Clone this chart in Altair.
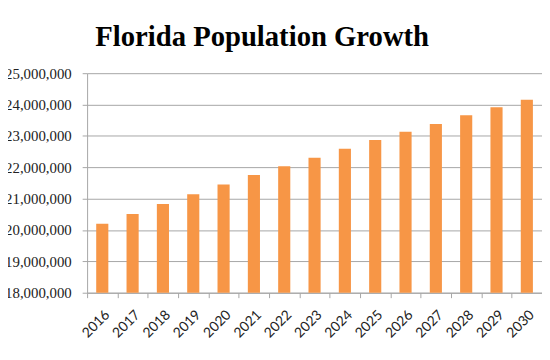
import altair as alt
import pandas as pd

years = [str(y) for y in range(2016, 2031)]
population = [20200000, 20510000, 20830000, 21140000, 21450000, 21750000,
              22030000, 22300000, 22590000, 22870000, 23130000, 23380000,
              23660000, 23910000, 24150000]
y_ticks = [18000000, 19000000, 20000000, 21000000, 22000000, 23000000,
           24000000, 25000000]

df = pd.DataFrame({"Year": years, "Population": population})

grid = "#a6a6a6"

chart = alt.Chart(df).mark_bar(
    color="#F79646", width=alt.RelativeBandSize(0.4), clip=True
).encode(
    x=alt.X("Year:N", sort=years, title=None,
            scale=alt.Scale(paddingInner=0, paddingOuter=0),
            axis=alt.Axis(labelAngle=-45, labelFont="Lato", labelFontSize=14,
                          labelColor="#222222", tickBand="extent",
                          domainColor=grid, tickColor=grid, tickSize=5,
                          labelPadding=10, grid=False)),
    y=alt.Y("Population:Q", title=None,
            scale=alt.Scale(domain=[18000000, 25000000], nice=False, zero=False),
            axis=alt.Axis(values=y_ticks, format=",d", labelFont="Liberation Serif",
                          labelFontSize=15, labelColor="#222222",
                          domainColor=grid, tickColor=grid, tickSize=5,
                          gridColor=grid, labelPadding=11)),
).properties(
    width=460, height=222,
    title=alt.TitleParams("Florida Population Growth", font="Liberation Serif",
                          fontSize=29, fontWeight="bold", color="#000000",
                          anchor="middle", dx=-53, offset=14),
    autosize=alt.AutoSizeParams(type="none"),
    padding={"left": 80, "top": 64, "right": 0, "bottom": 54},
).configure_view(stroke=None)

chart.save("out.html", embed_options={"renderer": "svg", "actions": False})
